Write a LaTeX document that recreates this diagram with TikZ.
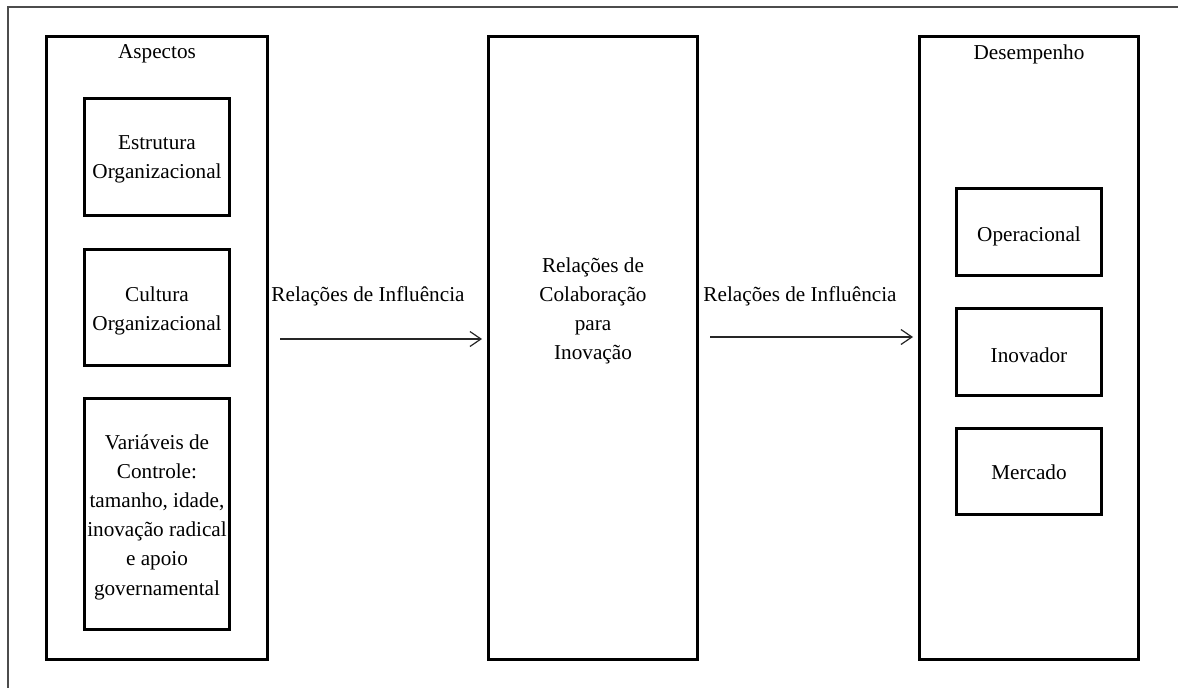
\documentclass[tikz,border=0pt]{standalone}
\usepackage{fontspec}
\setmainfont{Liberation Serif}
\usetikzlibrary{arrows.meta}
\newcommand{\diagfont}{\fontsize{21.2}{29.2}\selectfont}
\tikzset{
  box/.style={draw, line width=2.6pt, inner sep=0pt, align=center, font=\diagfont},
  txt/.style={inner sep=0pt, align=center, font=\diagfont},
  arr/.style={line width=1.2pt, draw=black!85, -{Straight Barb[length=11pt,width=15pt,line width=1.2pt]}},
  frame/.style={draw=black!70, line width=1.6pt}
}
\begin{document}
\begin{tikzpicture}[x=1pt,y=-1pt]
\useasboundingbox (0,0) rectangle (1178,688);
\fill[white] (0,0) rectangle (1178,688);
\draw[frame] (8,690) -- (8,7) -- (1180,7);
% big boxes
\node[box, minimum width=221.4pt, minimum height=623.4pt] (asp) at (157,348) {};
\node[box, minimum width=209.4pt, minimum height=623.4pt] (colab) at (593,348) {};
\node[box, minimum width=219.4pt, minimum height=623.4pt] (des) at (1029,348) {};
% titles
\node[txt] (asptitle) at (157,54) {Aspectos};
\node[txt] (destitle) at (1029,54) {Desempenho};
\node[txt] (colabtxt) at (593,311) {Relações de\\Colaboração\\para\\Inovação};
% left inner boxes
\node[box, minimum width=145.4pt, minimum height=117.4pt] (estr) at (157,157) {};
\node[txt] (estrtxt) at (157,159) {Estrutura\\Organizacional};
\node[box, minimum width=145.4pt, minimum height=116.4pt] (cult) at (157,307.5) {};
\node[txt] (culttxt) at (157,311) {Cultura\\Organizacional};
\node[box, minimum width=145.4pt, minimum height=231.4pt] (vars) at (157,514) {};
\node[txt] (varstxt) at (157,517) {Variáveis de\\Controle:\\tamanho, idade,\\inovação radical\\e apoio\\governamental};
% right inner boxes
\node[box, minimum width=145.4pt, minimum height=87.4pt] (oper) at (1029,232) {};
\node[txt] (opertxt) at (1029,236) {Operacional};
\node[box, minimum width=145.4pt, minimum height=87.4pt] (inov) at (1029,352) {};
\node[txt] (inovtxt) at (1029,355) {Inovador};
\node[box, minimum width=145.4pt, minimum height=86.4pt] (merc) at (1029,471.5) {};
\node[txt] (merctxt) at (1029,472) {Mercado};
% arrows
\coordinate (a1s) at ([xshift=11pt,yshift=9pt]asp.east);
\coordinate (a1e) at ([xshift=-5pt,yshift=9pt]colab.west);
\coordinate (a2s) at ([xshift=11pt,yshift=11pt]colab.east);
\coordinate (a2e) at ([xshift=-5pt,yshift=11pt]des.west);
\draw[arr] (a1s) -- (a1e);
\draw[arr] (a2s) -- (a2e);
\node[txt] (lab1) at (368,296) {Relações de Influência};
\node[txt] (lab2) at (800,296) {Relações de Influência};
\end{tikzpicture}
\end{document}
